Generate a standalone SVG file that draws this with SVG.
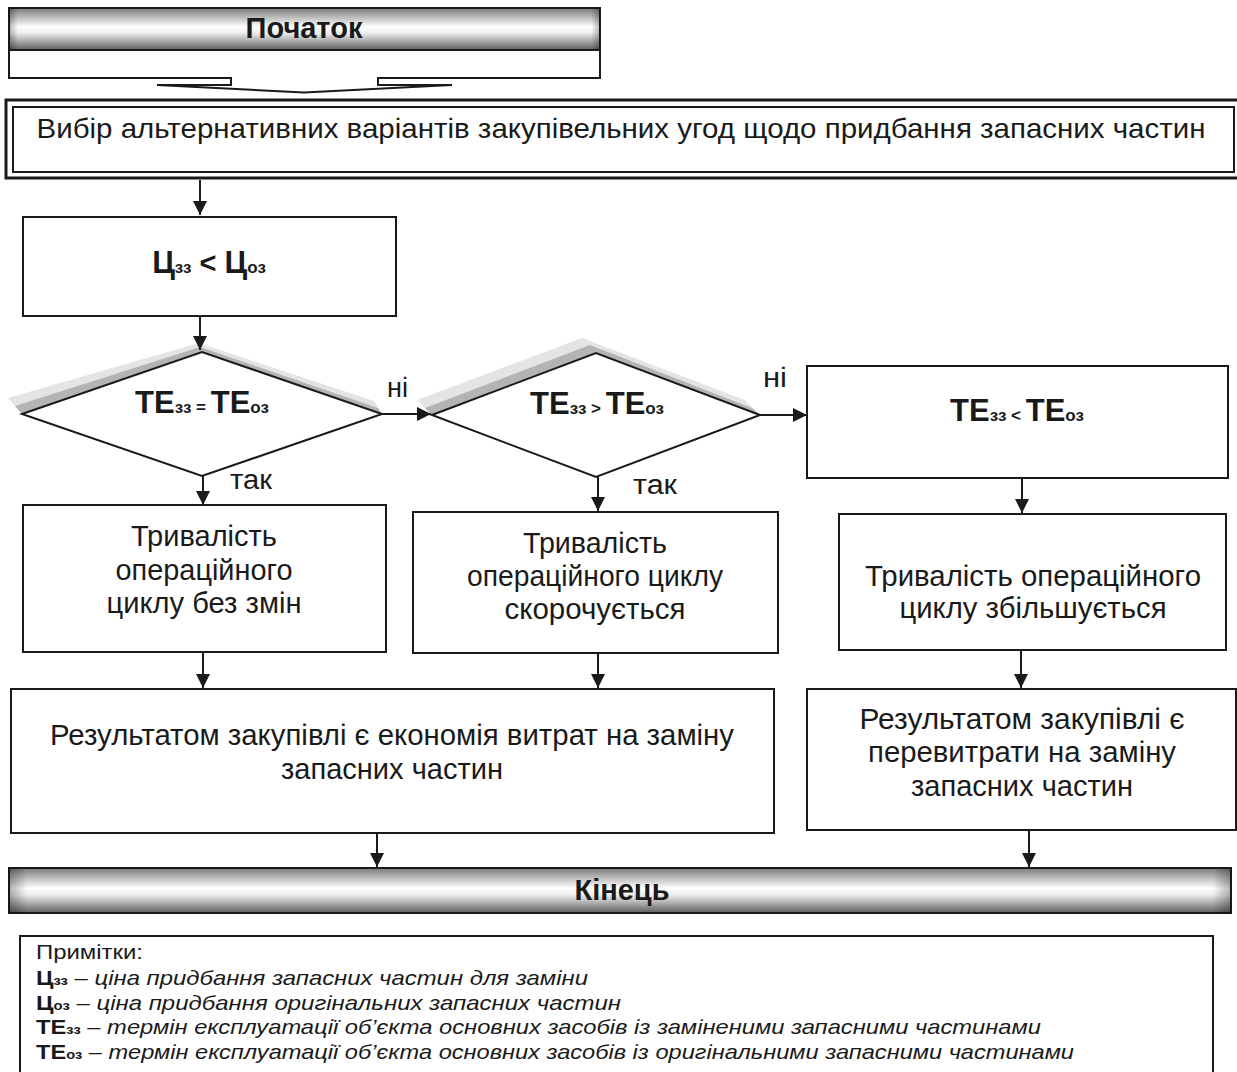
<svg xmlns="http://www.w3.org/2000/svg" width="1237" height="1072" viewBox="0 0 1237 1072">
<style>
.box{fill:#fff;stroke:#1a1a1a;stroke-width:2}
.t{font-family:"Liberation Sans",Arial,sans-serif;fill:#1a1a1a}
.c{text-anchor:middle}
.b{font-weight:bold}
.m{font-size:29px}
.lbl{font-size:27px}
.n{font-size:21px}
.i{font-style:italic}
.conn line{stroke:#1a1a1a;stroke-width:2;marker-end:url(#ah)}
.shL{fill:#e4e4e4}
.shD{fill:#b4b4b4}
</style>
<defs>
<linearGradient id="metal" x1="0" y1="0" x2="0" y2="1">
<stop offset="0" stop-color="#7a7a7a"/>
<stop offset="0.45" stop-color="#ffffff"/>
<stop offset="0.6" stop-color="#ececec"/>
<stop offset="1" stop-color="#5e5e5e"/>
</linearGradient>
<linearGradient id="ends" x1="0" y1="0" x2="1" y2="0">
<stop offset="0" stop-color="#000" stop-opacity="0.3"/>
<stop offset="0.015" stop-color="#000" stop-opacity="0"/>
<stop offset="0.985" stop-color="#000" stop-opacity="0"/>
<stop offset="1" stop-color="#000" stop-opacity="0.3"/>
</linearGradient>
<marker id="ah" markerWidth="14" markerHeight="15" refX="14" refY="7" orient="auto" markerUnits="userSpaceOnUse">
<path d="M0,0 L14,7 L0,14 Z" fill="#1a1a1a"/>
</marker>
</defs>

<g id="start">
<rect x="9" y="8" width="591" height="42" fill="url(#metal)" stroke="#1a1a1a" stroke-width="2"/>
<rect x="9" y="8" width="591" height="42" fill="url(#ends)"/>
<path d="M9,50 H600 V78 H378 V85 H452 L304,92.5 L157,85 H231 V78 H9 Z" fill="#fff" stroke="#1a1a1a" stroke-width="2" stroke-linejoin="miter"/>
<text class="t c b" x="304" y="38" font-size="29">Початок</text>
</g>

<g id="choice">
<rect x="6" y="100" width="1240" height="78" fill="#fff" stroke="#1a1a1a" stroke-width="3"/>
<rect x="13" y="107" width="1221" height="65" fill="none" stroke="#1a1a1a" stroke-width="2"/>
<text class="t c" x="621" y="138" font-size="28" textLength="1169" lengthAdjust="spacingAndGlyphs">Вибір альтернативних варіантів закупівельних угод щодо придбання запасних частин</text>
</g>

<g id="price">
<rect class="box" x="23" y="217" width="373" height="99"/>
<text class="t c b" x="209" y="273"><tspan font-size="31">Ц</tspan><tspan font-size="17">зз</tspan><tspan font-size="29"> &lt; </tspan><tspan font-size="31">Ц</tspan><tspan font-size="17">оз</tspan></text>
</g>

<g id="dec1">
<polygon class="shL" points="8,398 199,343 374,401 382,414 202,352 22,414"/>
<polygon class="shD" points="15,406 200,347 378,408 382,414 202,352 22,414"/>
<polygon class="box" points="22,414 202,352 382,414 202,476"/>
<text class="t c b" x="202" y="413"><tspan font-size="31">ТЕ</tspan><tspan font-size="17">зз</tspan><tspan font-size="17"> = </tspan><tspan font-size="31">ТЕ</tspan><tspan font-size="17">оз</tspan></text>
</g>

<g id="dec2">
<polygon class="shL" points="417,400 582,338 745,400 760,415 596,353 432,415"/>
<polygon class="shD" points="425,408 590,345 752,408 760,415 596,353 432,415"/>
<polygon class="box" points="432,415 596,353 760,415 596,477"/>
<text class="t c b" x="597" y="414"><tspan font-size="31">ТЕ</tspan><tspan font-size="17">зз</tspan><tspan font-size="17"> &gt; </tspan><tspan font-size="31">ТЕ</tspan><tspan font-size="17">оз</tspan></text>
</g>

<g id="cond3">
<rect class="box" x="807" y="366" width="421" height="112"/>
<text class="t c b" x="1017" y="421"><tspan font-size="31">ТЕ</tspan><tspan font-size="17">зз</tspan><tspan font-size="17"> &lt; </tspan><tspan font-size="31">ТЕ</tspan><tspan font-size="17">оз</tspan></text>
</g>

<g id="same">
<rect class="box" x="23" y="505" width="363" height="147"/>
<text class="t c m" x="204" y="546" textLength="146" lengthAdjust="spacingAndGlyphs">Тривалість</text>
<text class="t c m" x="204" y="580" textLength="177" lengthAdjust="spacingAndGlyphs">операційного</text>
<text class="t c m" x="204" y="613" textLength="195" lengthAdjust="spacingAndGlyphs">циклу без змін</text>
</g>

<g id="shorter">
<rect class="box" x="413" y="512" width="365" height="141"/>
<text class="t c m" x="595" y="553" textLength="144" lengthAdjust="spacingAndGlyphs">Тривалість</text>
<text class="t c m" x="595" y="586" textLength="256" lengthAdjust="spacingAndGlyphs">операційного циклу</text>
<text class="t c m" x="595" y="619" textLength="181" lengthAdjust="spacingAndGlyphs">скорочується</text>
</g>

<g id="longer">
<rect class="box" x="839" y="514" width="387" height="136"/>
<text class="t c m" x="1033" y="586" textLength="336" lengthAdjust="spacingAndGlyphs">Тривалість операційного</text>
<text class="t c m" x="1033" y="618" textLength="267" lengthAdjust="spacingAndGlyphs">циклу збільшується</text>
</g>

<g id="saving">
<rect class="box" x="11" y="689" width="763" height="144"/>
<text class="t c m" x="392" y="745" textLength="684" lengthAdjust="spacingAndGlyphs">Результатом закупівлі є економія витрат на заміну</text>
<text class="t c m" x="392" y="779" textLength="222" lengthAdjust="spacingAndGlyphs">запасних частин</text>
</g>

<g id="overspend">
<rect class="box" x="807" y="689" width="429" height="141"/>
<text class="t c m" x="1022" y="729" textLength="325" lengthAdjust="spacingAndGlyphs">Результатом закупівлі є</text>
<text class="t c m" x="1022" y="762" textLength="308" lengthAdjust="spacingAndGlyphs">перевитрати на заміну</text>
<text class="t c m" x="1022" y="796" textLength="222" lengthAdjust="spacingAndGlyphs">запасних частин</text>
</g>

<g id="end">
<rect x="9" y="868" width="1222" height="45" fill="url(#metal)" stroke="#1a1a1a" stroke-width="2"/>
<rect x="9" y="868" width="1222" height="45" fill="url(#ends)"/>
<text class="t c b" x="622" y="900" font-size="29">Кінець</text>
</g>

<g id="connectors" class="conn">
<line x1="200" y1="180" x2="200" y2="215"/>
<line x1="200" y1="317" x2="200" y2="350"/>
<line x1="382" y1="414" x2="431" y2="414"/>
<line x1="203" y1="476" x2="203" y2="505"/>
<line x1="760" y1="415" x2="807" y2="415"/>
<line x1="598" y1="477" x2="598" y2="511"/>
<line x1="1022" y1="479" x2="1022" y2="513"/>
<line x1="203" y1="653" x2="203" y2="688"/>
<line x1="598" y1="654" x2="598" y2="688"/>
<line x1="1021" y1="651" x2="1021" y2="688"/>
<line x1="377" y1="834" x2="377" y2="867"/>
<line x1="1029" y1="831" x2="1029" y2="867"/>
</g>

<g id="labels">
<text class="t lbl" x="387" y="397" textLength="21" lengthAdjust="spacingAndGlyphs">ні</text>
<text class="t lbl" x="763" y="387" textLength="24" lengthAdjust="spacingAndGlyphs">ні</text>
<text class="t lbl" x="230" y="489" textLength="42" lengthAdjust="spacingAndGlyphs">так</text>
<text class="t lbl" x="633" y="494" textLength="44" lengthAdjust="spacingAndGlyphs">так</text>
</g>

<g id="notes">
<rect x="20" y="936" width="1193" height="150" fill="#fff" stroke="#1a1a1a" stroke-width="2"/>
<text class="t n" x="36" y="959" textLength="107" lengthAdjust="spacingAndGlyphs">Примітки:</text>
<text class="t n" x="36" y="985" textLength="552" lengthAdjust="spacingAndGlyphs"><tspan class="b">Ц</tspan><tspan class="b" font-size="13">зз</tspan> – <tspan class="i">ціна придбання запасних частин для заміни</tspan></text>
<text class="t n" x="36" y="1009.5" textLength="585" lengthAdjust="spacingAndGlyphs"><tspan class="b">Ц</tspan><tspan class="b" font-size="13">оз</tspan> – <tspan class="i">ціна придбання оригінальних запасних частин</tspan></text>
<text class="t n" x="36" y="1034" textLength="1005" lengthAdjust="spacingAndGlyphs"><tspan class="b">ТЕ</tspan><tspan class="b" font-size="13">зз</tspan> – <tspan class="i">термін експлуатації об’єкта основних засобів із заміненими запасними частинами</tspan></text>
<text class="t n" x="36" y="1058.5" textLength="1038" lengthAdjust="spacingAndGlyphs"><tspan class="b">ТЕ</tspan><tspan class="b" font-size="13">оз</tspan> – <tspan class="i">термін експлуатації об’єкта основних засобів із оригінальними запасними частинами</tspan></text>
</g>
</svg>
